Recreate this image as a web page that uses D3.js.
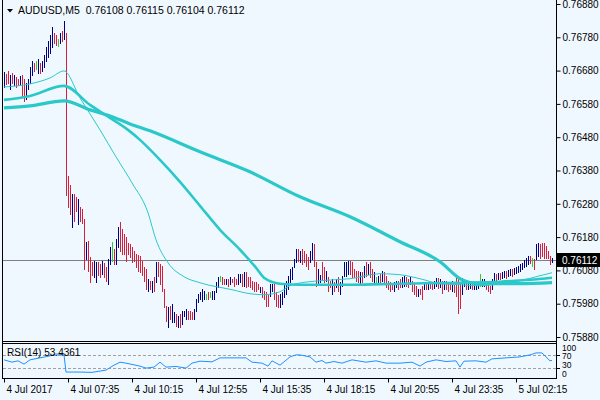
<!DOCTYPE html>
<html><head><meta charset="utf-8">
<script src="https://cdn.jsdelivr.net/npm/d3@7"></script>
<style>
html,body{margin:0;padding:0;background:#F0F8FF;}
svg{display:block;font-family:"Liberation Sans",Arial,sans-serif;}
</style></head><body>
<svg id="c" width="600" height="400"></svg>
<script>
// ---------------- DATA ----------------
const symbol = "AUDUSD,M5";
const lastOHLC = [0.76108, 0.76115, 0.76104, 0.76112];

const barHigh = [
0.76673,0.76667,0.76676,0.76664,0.76670,0.76664,0.76658,0.76652,0.76661,0.76664,0.76652,0.76640,0.76652,0.76688,0.76706,0.76700,
0.76706,0.76712,0.76700,0.76706,0.76724,0.76748,0.76766,0.76784,0.76808,0.76790,0.76784,0.76772,0.76790,0.76796,0.76826,0.76790,
0.76361,0.76334,0.76307,0.76307,0.76298,0.76292,0.76268,0.76262,0.76232,0.76163,0.76166,0.76118,0.76103,0.76106,0.76103,0.76103,
0.76097,0.76106,0.76100,0.76088,0.76112,0.76148,0.76163,0.76142,0.76172,0.76208,0.76223,0.76202,0.76187,0.76178,0.76160,0.76157,
0.76148,0.76136,0.76127,0.76124,
0.76121,0.76106,0.76088,0.76082,0.76052,0.76046,0.76046,0.76058,0.76103,0.76103,0.76097,0.76091,0.76022,0.75971,0.75968,0.75971,
0.75977,0.75953,0.75947,0.75941,0.75947,0.75956,0.75956,0.75962,0.75956,0.75956,0.75953,0.75962,0.75992,0.76007,0.76013,0.76022,
0.76016,0.76007,0.76013,0.76013,0.76016,0.76016,
0.76043,0.76058,0.76061,0.76058,0.76052,0.76052,0.76052,0.76058,0.76052,0.76058,0.76052,0.76067,0.76067,0.76067,0.76073,0.76073,
0.76058,0.76058,0.76046,0.76043,0.76043,0.76037,0.76028,0.76028,0.76016,0.76013,0.76007,0.76037,0.76037,0.76037,0.76013,0.76004,
0.76007,0.76013,0.76037,0.76046,0.76061,0.76082,0.76088,0.76112,
0.76142,0.76142,0.76136,0.76142,0.76136,0.76127,0.76118,0.76136,0.76160,0.76157,0.76103,0.76082,0.76064,0.76103,0.76088,0.76076,
0.76058,0.76046,0.76052,0.76043,0.76052,0.76058,0.76043,0.76061,0.76103,0.76103,0.76106,0.76106,0.76103,0.76082,0.76076,0.76076,
0.76073,0.76073,0.76091,0.76103,0.76097,0.76103,0.76082,0.76073,
0.76058,0.76061,0.76067,0.76076,0.76073,0.76061,0.76046,0.76043,0.76037,0.76043,0.76046,0.76046,0.76052,0.76058,0.76061,0.76058,
0.76052,0.76058,0.76046,0.76037,0.76031,0.76022,0.76022,0.76031,0.76040,0.76040,0.76037,0.76040,0.76040,0.76046,0.76055,0.76055,
0.76052,0.76046,0.76046,0.76046,0.76040,0.76040,0.76046,0.76037,
0.76055,0.76055,0.76037,0.76055,0.76046,0.76040,0.76040,0.76046,0.76040,0.76037,0.76037,0.76040,0.76067,0.76052,0.76052,0.76040,
0.76037,0.76031,0.76052,0.76070,0.76067,0.76070,0.76070,0.76073,0.76076,0.76076,0.76079,0.76082,0.76082,0.76085,0.76088,0.76091,
0.76097,0.76100,0.76109,0.76115,0.76121,0.76121,0.76115,0.76112,0.76157,0.76160,0.76157,0.76160,0.76160,0.76151,0.76136,0.76121,
0.76115];

const barLow = [
0.76628,0.76637,0.76640,0.76622,0.76640,0.76634,0.76628,0.76634,0.76634,0.76598,0.76586,0.76592,0.76622,0.76640,0.76664,0.76676,
0.76682,0.76670,0.76670,0.76676,0.76688,0.76706,0.76718,0.76730,0.76748,0.76760,0.76754,0.76751,0.76760,0.76766,0.76772,0.76304,
0.76268,0.76247,0.76208,0.76226,0.76256,0.76217,0.76226,0.76220,0.76082,0.76112,0.76076,0.76043,0.76064,0.76058,0.76043,0.76064,
0.76058,0.76067,0.76058,0.76046,0.76037,0.76097,0.76106,0.76097,0.76097,0.76148,0.76136,0.76127,0.76127,0.76106,0.76127,0.76118,
0.76103,0.76106,0.76088,0.76076,
0.76073,0.76064,0.76046,0.76022,0.76016,0.76022,0.76013,0.76016,0.76043,0.76061,0.76037,0.76016,0.75968,0.75926,0.75908,0.75932,
0.75923,0.75923,0.75911,0.75908,0.75908,0.75917,0.75941,0.75932,0.75932,0.75932,0.75932,0.75932,0.75956,0.75983,0.75992,0.75986,
0.75992,0.75992,0.75992,0.75998,0.75992,0.75992,
0.76013,0.76028,0.76046,0.76037,0.76037,0.76037,0.76031,0.76037,0.76043,0.76031,0.76037,0.76037,0.76043,0.76031,0.76031,0.76028,
0.76031,0.76028,0.76022,0.76016,0.76016,0.76022,0.76013,0.75998,0.75992,0.75971,0.75971,0.76001,0.76016,0.75992,0.75971,0.75968,
0.75968,0.75977,0.75998,0.76007,0.76022,0.76043,0.76052,0.76088,
0.76103,0.76106,0.76103,0.76097,0.76103,0.76091,0.76082,0.76103,0.76112,0.76091,0.76031,0.76037,0.76043,0.76052,0.76043,0.76046,
0.76016,0.76028,0.76007,0.76016,0.76028,0.76016,0.76007,0.76031,0.76061,0.76061,0.76067,0.76067,0.76058,0.76058,0.76046,0.76043,
0.76037,0.76043,0.76058,0.76061,0.76067,0.76058,0.76046,0.76043,
0.76037,0.76043,0.76037,0.76046,0.76043,0.76028,0.76022,0.76016,0.76022,0.76016,0.76028,0.76022,0.76028,0.76028,0.76031,0.76031,
0.76028,0.76037,0.76016,0.76007,0.76001,0.76001,0.76007,0.75992,0.76022,0.76022,0.76022,0.76025,0.76022,0.76025,0.76031,0.76025,
0.76028,0.76010,0.76022,0.76022,0.76016,0.76022,0.76016,0.76013,
0.76001,0.75950,0.75965,0.76007,0.76031,0.76022,0.76022,0.76025,0.76022,0.76022,0.76022,0.76025,0.76031,0.76031,0.76031,0.76022,
0.76016,0.76010,0.76022,0.76037,0.76040,0.76052,0.76052,0.76055,0.76058,0.76055,0.76061,0.76064,0.76061,0.76067,0.76070,0.76073,
0.76076,0.76082,0.76088,0.76091,0.76097,0.76100,0.76091,0.76082,0.76112,0.76121,0.76115,0.76121,0.76115,0.76115,0.76115,0.76097,
0.76104];

// u = close above open, d = close below open, n = unchanged
const barDir = ("uddududd"+"udduuuud"+"nuduuuuu"+"uddnudud"+
  "dduddudd"+"duddduud"+"dudduund"+"uudddddd"+"dddd"+
  "ddddudud"+"udddddud"+"uududuuu"+"ddduuuuu"+"undnuu"+
  "uunddudu"+"ddduudud"+"ddddddud"+"ddduuddd"+"uuuuuuuu"+
  "ududdddu"+"udduuddu"+"ddududuu"+"uuuddddd"+"udududdu"+
  "nududddd"+"duudduud"+"dudddudd"+"ududduud"+"ududddud"+
  "ddduuduu"+"duuunuud"+"dduududu"+"uduuduuu"+"uuuuudnd"+"uudddddd"+"u").split("");

const maFastBars = [0,13,23,30,38,48,56,64,72,76,82,90,98,114,123,130,138,144,158,173,188,198,208,218,228,238,248,258,268,274];
const maFastVals = [0.76631,0.76640,0.76658,0.76679,0.76598,0.76502,0.76421,0.76343,0.76253,0.76172,0.76103,0.76061,0.76043,0.76022,0.76010,0.76007,0.76016,0.76037,0.76049,0.76055,0.76070,0.76067,0.76055,0.76040,0.76037,0.76034,0.76040,0.76049,0.76064,0.76073];

const maMidBars = [0,13,30,43,53,62,68,78,88,98,108,118,126,130,138,148,173,198,228,248,263,274];
const maMidVals = [0.76592,0.76604,0.76634,0.76577,0.76538,0.76502,0.76472,0.76412,0.76346,0.76274,0.76202,0.76142,0.76088,0.76058,0.76040,0.76037,0.76037,0.76040,0.76043,0.76046,0.76052,0.76058];

const maSlowBars = [0,13,30,43,53,63,73,98,123,148,173,198,218,229,238,258,274];
const maSlowVals = [0.76568,0.76574,0.76589,0.76562,0.76544,0.76520,0.76499,0.76436,0.76376,0.76301,0.76241,0.76166,0.76106,0.76052,0.76040,0.76040,0.76043];

const rsiBars = [0,4,7,10,13,18,23,26,30,31,38,44,51,55,58,61,68,71,75,78,81,86,91,94,98,104,108,114,121,124,129,132,134,138,143,146,148,153,156,159,161,165,169,174,181,186,191,198,204,208,211,216,221,226,228,230,236,241,244,251,258,263,266,269,271,273,274];
const rsiVals = [55,48,52,42,55,61,67,73,70,18,18,17,24,39,48,45,36,30,33,48,33,35,30,45,51,49,61,61,61,48,45,36,52,39,64,70,70,64,48,53,45,50,45,55,48,52,45,45,48,36,48,55,50,52,33,51,52,48,58,61,64,70,76,76,64,52,53.4361];
const rsiLabel = "RSI(14) 53.4361";
const rsiLevels = [30, 70];
const rsiAxisLabels = [100, 70, 30, 0];

const priceTicks = [0.75880,0.75980,0.76080,0.76180,0.76280,0.76380,0.76480,0.76580,0.76680,0.76780,0.76880];
const timeLabelBars = [0,32,64,96,128,160,192,224,256];
const timeLabels = ["4 Jul 2017","4 Jul 07:35","4 Jul 10:15","4 Jul 12:55","4 Jul 15:35","4 Jul 18:15","4 Jul 20:55","4 Jul 23:35","5 Jul 02:15"];

// ---------------- DRAW ----------------
const W = 600, H = 400;
const L = 2.5, R = 556.5, mainBottom = 341.5, rsiTop = 343.5, rsiBottom = 378.5;
const svg = d3.select("#c");
const x = d3.scaleLinear().domain([0, barHigh.length - 1]).range([4, 552]);
const y = d3.scaleLinear().domain([0.7588, 0.7688]).range([337, 4]);
const yR = d3.scaleLinear().domain([0, 100]).range([378, 345]);
const cx = i => Math.round(x(i)) + 0.5;

svg.append("rect").attr("width", W).attr("height", H).attr("fill", "#F0F8FF");

const defs = svg.append("defs");
defs.append("clipPath").attr("id", "clipMain").append("rect")
  .attr("x", 3).attr("y", 0).attr("width", 553).attr("height", 341);
defs.append("clipPath").attr("id", "clipRsi").append("rect")
  .attr("x", 3).attr("y", 344).attr("width", 553).attr("height", 34);

const gMain = svg.append("g").attr("clip-path", "url(#clipMain)");

// current price line
const lastY = Math.round(y(lastOHLC[3])) + 0.5;
gMain.append("line").attr("x1", 3).attr("x2", 556).attr("y1", lastY).attr("y2", lastY)
  .attr("stroke", "#808080").attr("stroke-width", 1);

// bars
const dirColor = {u: "#000080", d: "#d81e3a", n: "#32cd32"};
gMain.append("g").selectAll("line").data(barHigh.map((h, i) => i)).join("line")
  .attr("x1", i => cx(i)).attr("x2", i => cx(i))
  .attr("y1", i => y(barHigh[i]) - 0.5).attr("y2", i => y(barLow[i]) + 0.5)
  .attr("stroke", i => dirColor[barDir[i]]).attr("stroke-width", 1)
  .attr("shape-rendering", "crispEdges");

// moving averages
const maColor = "#2ac8c8";
const lineGen = d3.line().x(d => x(d[0])).y(d => y(d[1])).curve(d3.curveMonotoneX);
[[maSlowBars, maSlowVals, 3.2], [maMidBars, maMidVals, 2.6], [maFastBars, maFastVals, 1]].forEach(([b, v, w]) => {
  gMain.append("path").datum(b.map((bi, k) => [bi, v[k]]))
    .attr("d", lineGen).attr("fill", "none").attr("stroke", maColor)
    .attr("stroke-width", w).attr("stroke-linejoin", "round");
});

// header
svg.append("path").attr("d", "M7,9 L13,9 L10,12.5 Z").attr("fill", "#000");
svg.append("text").attr("x", 18).attr("y", 14).attr("font-size", 10.5).attr("fill", "#000")
  .attr("xml:space", "preserve")
  .text(symbol + "  " + lastOHLC.map(v => v.toFixed(5)).join(" "));

// RSI pane
const gRsi = svg.append("g").attr("clip-path", "url(#clipRsi)");
gRsi.selectAll("line.lvl").data(rsiLevels).join("line").attr("class", "lvl")
  .attr("x1", 3).attr("x2", 556)
  .attr("y1", d => Math.round(yR(d)) + 0.5).attr("y2", d => Math.round(yR(d)) + 0.5)
  .attr("stroke", "#a0a0a0").attr("stroke-dasharray", "3,2");
gRsi.append("path").datum(rsiBars.map((b, k) => [b, rsiVals[k]]))
  .attr("d", d3.line().x(d => x(d[0])).y(d => yR(d[1])))
  .attr("fill", "none").attr("stroke", "#1e90ff").attr("stroke-width", 1);
svg.append("text").attr("x", 7).attr("y", 356).attr("font-size", 10).attr("fill", "#000").text(rsiLabel);

// frames
const frame = svg.append("g").attr("stroke", "#000").attr("stroke-width", 1).attr("shape-rendering", "crispEdges");
frame.append("line").attr("x1", L).attr("x2", L).attr("y1", 0).attr("y2", rsiBottom);
frame.append("line").attr("x1", R).attr("x2", R).attr("y1", 0).attr("y2", rsiBottom);
frame.append("line").attr("x1", L).attr("x2", R).attr("y1", mainBottom).attr("y2", mainBottom);
frame.append("line").attr("x1", L).attr("x2", R).attr("y1", rsiTop).attr("y2", rsiTop);
frame.append("line").attr("x1", L).attr("x2", R).attr("y1", rsiBottom).attr("y2", rsiBottom);

// price axis
const pAxis = svg.append("g").attr("transform", "translate(556.5,0)")
  .call(d3.axisRight(y).tickValues(priceTicks).tickSize(4).tickPadding(2).tickFormat(d3.format(".5f")));
pAxis.select(".domain").remove();
pAxis.selectAll("line").attr("stroke", "#000");
pAxis.selectAll("text").attr("font-size", 10).attr("fill", "#000").attr("font-family", "Liberation Sans, Arial, sans-serif");

// current price box
svg.append("rect").attr("x", 557).attr("y", lastY - 7.5).attr("width", 43).attr("height", 14).attr("fill", "#000");
svg.append("text").attr("x", 562).attr("y", lastY).attr("dy", "0.35em").attr("font-size", 10)
  .attr("fill", "#fff").text(lastOHLC[3].toFixed(5));

// RSI axis
const rsiLabelY = {100: 347.6, 70: 356.2, 30: 365.2, 0: 374};
const rg = svg.append("g");
rg.selectAll("line").data(rsiLevels).join("line")
  .attr("x1", 556).attr("x2", 560).attr("y1", d => Math.round(yR(d)) + 0.5).attr("y2", d => Math.round(yR(d)) + 0.5)
  .attr("stroke", "#000");
rg.selectAll("text").data(rsiAxisLabels).join("text")
  .attr("x", 562).attr("y", d => rsiLabelY[d])
  .attr("dy", "0.35em").attr("font-size", 8.5).attr("fill", "#000").text(d => d);

// time axis
const tAxis = svg.append("g").attr("transform", "translate(0," + rsiBottom + ")")
  .call(d3.axisBottom(x).tickValues(timeLabelBars).tickSize(4).tickPadding(3)
    .tickFormat((d, k) => timeLabels[k]));
tAxis.select(".domain").remove();
tAxis.selectAll("line").attr("stroke", "#000");
tAxis.selectAll("text").attr("text-anchor", "start").attr("x", 2).attr("font-size", 10)
  .attr("fill", "#000").attr("font-family", "Liberation Sans, Arial, sans-serif");
</script>
</body></html>
